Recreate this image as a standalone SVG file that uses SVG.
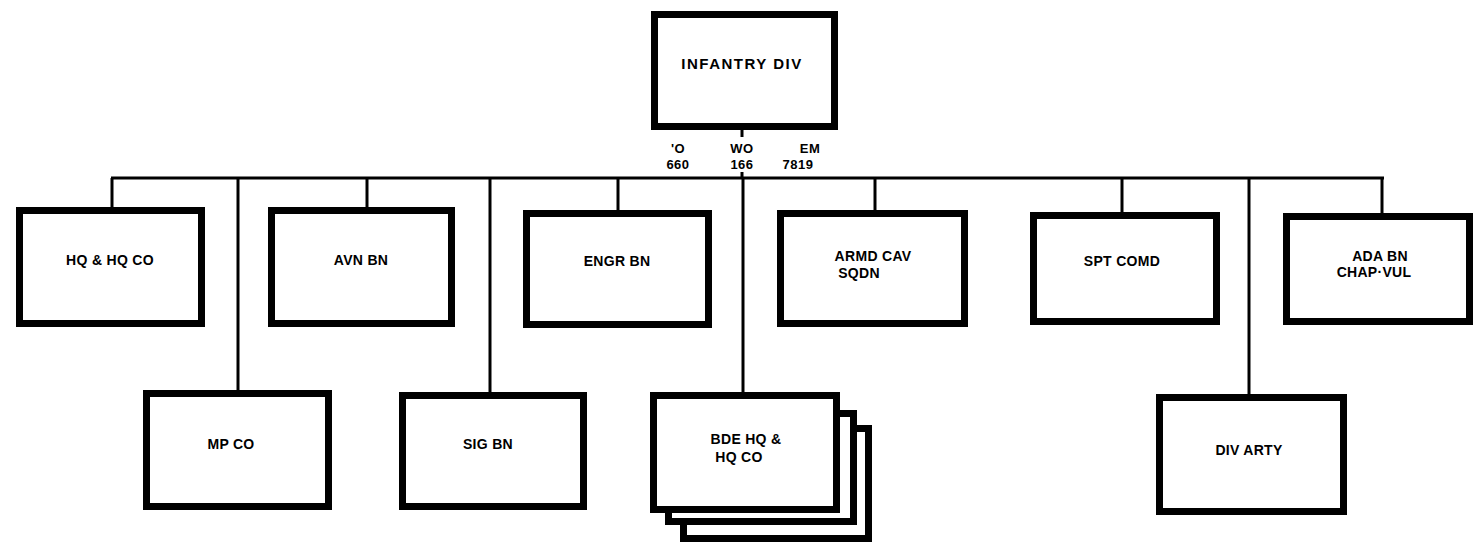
<svg xmlns="http://www.w3.org/2000/svg" width="1480" height="552" viewBox="0 0 1480 552">
<style>
.box{fill:#fff;stroke:#000;stroke-width:7}
.ln{stroke:#000;stroke-width:3;fill:none}
text{font-family:"Liberation Sans",Arial,sans-serif;font-weight:bold;font-size:14px;fill:#000;text-anchor:middle;letter-spacing:0.3px}
.big{font-size:15px;letter-spacing:1.5px}
.num{font-size:13px;letter-spacing:0.5px}
</style>
<rect width="1480" height="552" fill="#fff"/>
<g id="connectors">
<line class="ln" x1="111" y1="178" x2="1384" y2="178"/>
<line class="ln" x1="742" y1="130" x2="742" y2="137"/>
<line class="ln" x1="742" y1="172" x2="742" y2="178"/>
<line class="ln" x1="112" y1="178" x2="112" y2="207"/>
<line class="ln" x1="238" y1="178" x2="238" y2="390"/>
<line class="ln" x1="367" y1="178" x2="367" y2="207"/>
<line class="ln" x1="490" y1="178" x2="490" y2="392"/>
<line class="ln" x1="618" y1="178" x2="618" y2="210"/>
<line class="ln" x1="743" y1="178" x2="743" y2="392"/>
<line class="ln" x1="875" y1="178" x2="875" y2="210"/>
<line class="ln" x1="1122" y1="178" x2="1122" y2="212"/>
<line class="ln" x1="1249" y1="178" x2="1249" y2="394"/>
<line class="ln" x1="1382" y1="178" x2="1382" y2="213"/>
</g>
<g id="infantry-div">
<rect class="box" x="654.5" y="14.5" width="180" height="112"/>
<text class="big" x="742" y="69">INFANTRY DIV</text>
<text class="num" x="678" y="153">'O</text>
<text class="num" x="742" y="153">WO</text>
<text class="num" x="810" y="153">EM</text>
<text class="num" x="678" y="169">660</text>
<text class="num" x="742" y="169">166</text>
<text class="num" x="798" y="169">7819</text>
</g>
<g id="hq-hq-co">
<rect class="box" x="19.5" y="210.5" width="182" height="113"/>
<text x="110" y="265">HQ &amp; HQ CO</text>
</g>
<g id="avn-bn">
<rect class="box" x="271.5" y="210.5" width="180" height="113"/>
<text x="361" y="265">AVN BN</text>
</g>
<g id="engr-bn">
<rect class="box" x="526.5" y="213.5" width="182" height="111"/>
<text x="617" y="266">ENGR BN</text>
</g>
<g id="armd-cav-sqdn">
<rect class="box" x="780.5" y="213.5" width="184" height="110"/>
<text x="873" y="261">ARMD CAV</text>
<text x="859" y="278">SQDN</text>
</g>
<g id="spt-comd">
<rect class="box" x="1033.5" y="215.5" width="183" height="106"/>
<text x="1122" y="266">SPT COMD</text>
</g>
<g id="ada-bn">
<rect class="box" x="1286.5" y="216.5" width="183" height="105"/>
<text x="1380" y="261">ADA BN</text>
<text x="1374" y="277">CHAP·VUL</text>
</g>
<g id="mp-co">
<rect class="box" x="146.5" y="393.5" width="182" height="113"/>
<text x="231" y="449">MP CO</text>
</g>
<g id="sig-bn">
<rect class="box" x="402.5" y="395.5" width="181" height="111"/>
<text x="488" y="449">SIG BN</text>
</g>
<g id="bde-hq-hq-co">
<rect class="box" x="683.5" y="428.5" width="185" height="110"/>
<rect class="box" x="668.5" y="413.5" width="185" height="108"/>
<rect class="box" x="653.5" y="395.5" width="183" height="114"/>
<text x="746" y="444">BDE HQ &amp;</text>
<text x="739" y="462">HQ CO</text>
</g>
<g id="div-arty">
<rect class="box" x="1159.5" y="397.5" width="184" height="114"/>
<text x="1249" y="455">DIV ARTY</text>
</g>
</svg>
